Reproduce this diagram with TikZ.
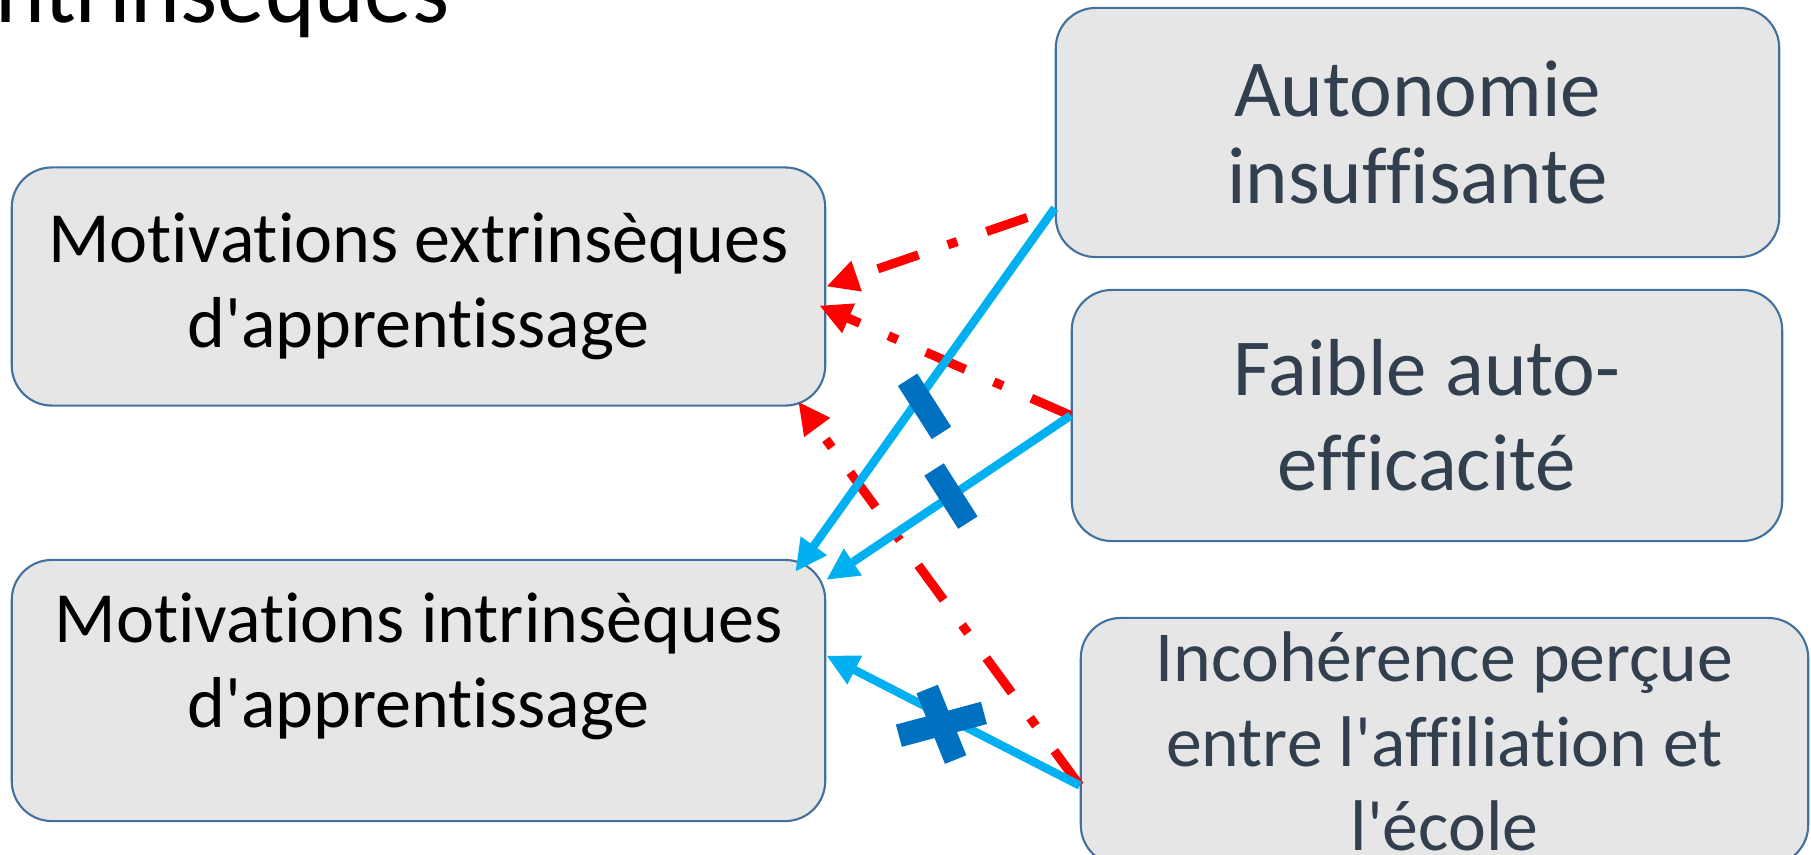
\documentclass[tikz,border=0pt]{standalone}
\usepackage{fontspec}
\setmainfont{Carlito}[Ligatures={CommonOff,ContextualOff}, Contextuals=AlternateOff]
\usepackage{tikz}
\usetikzlibrary{arrows.meta,calc}
\definecolor{boxfill}{HTML}{E6E6E6}
\definecolor{boxline}{HTML}{41719C}
\definecolor{darktext}{HTML}{323F4F}
\definecolor{arrowred}{HTML}{FF0000}
\definecolor{arrowblue}{HTML}{00B0F0}
\definecolor{markblue}{HTML}{0070C0}

\begin{document}
\begin{tikzpicture}[x=0.01cm, y=-0.01cm,
    box/.style={draw=boxline, line width=0.6pt, fill=boxfill, rounded corners=0.4cm, align=center, inner sep=0pt},
    leftbox/.style={box, minimum width=8.13cm, font=\fontsize{20.5}{24.2}\selectfont},
    rightbox/.style={box, text=darktext},
    redarrow/.style={draw=arrowred, line width=2.6pt, dash pattern=on 0.43cm off 0.31cm on 0.1cm off 0.31cm, -{Triangle[length=0.32cm,width=0.3cm]}},
    bluearrow/.style={draw=arrowblue, line width=2.4pt, -{Triangle[length=0.32cm,width=0.3cm]}},
    minusmark/.style={fill=markblue, inner sep=0pt, minimum width=0.63cm, minimum height=0.23cm, rotate=-57.5},
    plusbar/.style={fill=markblue, inner sep=0pt}]
    \useasboundingbox (0,0) rectangle (1811,854);

    \node[anchor=base east, inner sep=0pt, font=\fontsize{27}{32}\selectfont] (title) at (450,22) {ntrinsèques};

    \node[leftbox, minimum height=2.38cm] (extr) at (418.5,286.5) {Motivations extrinsèques\\d\textquotesingle apprentissage};
    \node[leftbox, minimum height=2.61cm] (intr) at (418.5,690.5) {Motivations intrinsèques\\d\textquotesingle apprentissage\\[-0.25cm]\mbox{}};

    \node[rightbox, minimum width=7.23cm, minimum height=2.49cm, font=\fontsize{23}{25}\selectfont] (aut) at (1417.5,132.5) {Autonomie\\insuffisante};
    \node[rightbox, minimum width=7.10cm, minimum height=2.51cm, font=\fontsize{23}{27}\selectfont] (faible) at (1427,415.5) {Faible auto-\\efficacité};
    \node[rightbox, minimum width=7.27cm, minimum height=2.47cm, font=\fontsize{20.4}{24}\selectfont] (inc) at (1444.5,741.5) {Incohérence perçue\\entre l\textquotesingle affiliation et\\l\textquotesingle école};

    \coordinate (autout) at ($(aut.south west)+(0,-50)$);
    \coordinate (incout) at ($(inc.west)+(0,44)$);

    \draw[redarrow, dash phase=0.86cm] (autout) -- (extr.east);
    \draw[redarrow] (faible.west) -- ($(extr.east)+(-7,19)$);
    \draw[redarrow] (incout) -- ($(extr.south east)+(-28,-5)$);

    \draw[bluearrow] (autout) -- node[xshift=0.73mm, yshift=-0.54mm, minusmark, pos=.53] (mA) {} ($(intr.north east)+(-31,13)$);
    \draw[bluearrow] (faible.west) -- node[minusmark, pos=.49] (mB) {} ($(intr.north east)+(0,21)$);
    \draw[bluearrow] (incout) -- node[xshift=-0.4mm, yshift=-0.77mm, plusbar, pos=.53, minimum width=0.88cm, minimum height=0.23cm, rotate=15] (mC) {}
        node[xshift=-0.4mm, yshift=-0.77mm, plusbar, pos=.53, minimum width=0.23cm, minimum height=0.76cm, rotate=22] (mCb) {} ($(intr.east)+(0,-35)$);
\end{tikzpicture}
\end{document}
